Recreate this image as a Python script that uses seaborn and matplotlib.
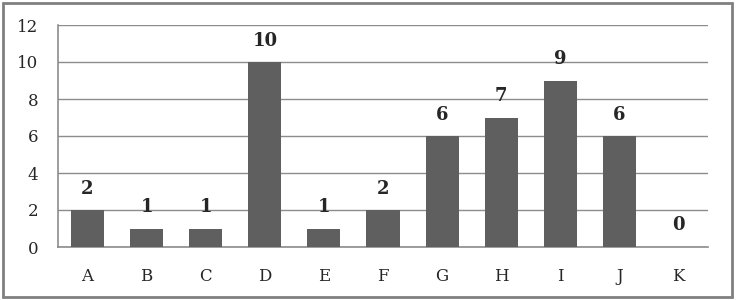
import numpy as np
import pandas as pd
import seaborn as sns
import matplotlib.pyplot as plt
from matplotlib.patches import Rectangle

# datos del gráfico
categorias = ["A", "B", "C", "D", "E", "F", "G", "H", "I", "J", "K"]
valores = [2, 1, 1, 10, 1, 2, 6, 7, 9, 6, 0]

df = pd.DataFrame({"cat": categorias, "valor": valores})

sns.set_style("white")
plt.rcParams["font.family"] = ["DejaVu Serif"]

fig = plt.figure(figsize=(7.36, 3.0), dpi=100)
ax = fig.add_axes([58 / 736, 53 / 300, 650 / 736, 222 / 300])

sns.barplot(data=df, x="cat", y="valor", color="#5f5f5f", saturation=1,
            width=0.56, linewidth=0, ax=ax, zorder=3)

ax.set_ylim(0, 12)
ax.set_yticks(range(0, 13, 2))
ax.yaxis.grid(True, color="#8c8c8c", linewidth=1, zorder=0)
ax.set_axisbelow(True)
ax.set_xlabel("")
ax.set_ylabel("")
ax.tick_params(axis="y", length=0, pad=14, labelsize=12)
ax.tick_params(axis="x", length=0, pad=15, labelsize=12)

for s in ["top", "right"]:
    ax.spines[s].set_visible(False)
for s in ["left", "bottom"]:
    ax.spines[s].set_color("#8c8c8c")
    ax.spines[s].set_linewidth(1.2)

# etiquetas de valor sobre cada barra
for i, v in enumerate(valores):
    ax.annotate(str(v), (i, v), xytext=(0, 9), textcoords="offset points",
                ha="center", va="bottom", fontsize=13, fontweight="bold")

# marco exterior
fig.patches.append(Rectangle((3 / 736, 3 / 300), 729 / 736, 294 / 300,
                             transform=fig.transFigure, fill=False,
                             edgecolor="#808080", linewidth=2))

plt.savefig("out.png", dpi=100)
